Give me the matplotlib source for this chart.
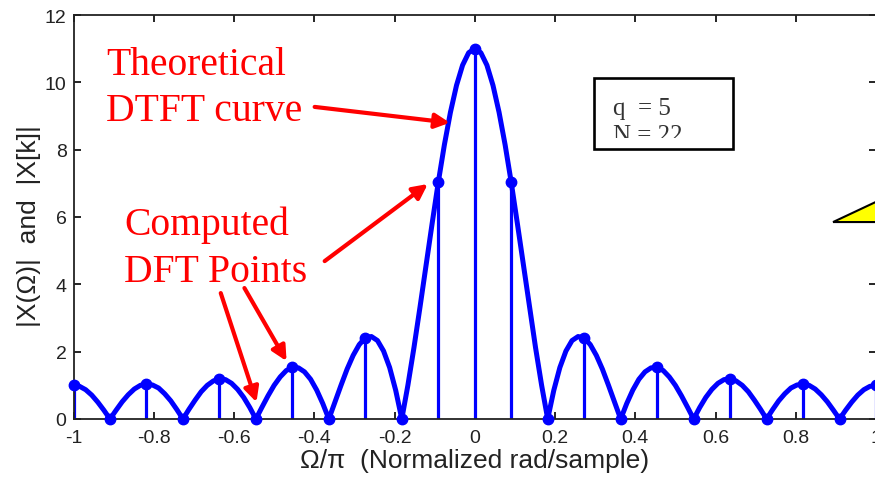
import numpy as np
import matplotlib
matplotlib.use('Agg')
import matplotlib.pyplot as plt
from matplotlib.patches import Rectangle, Polygon
from matplotlib.transforms import Bbox, TransformedBbox

# theoretical DTFT magnitude (omega/pi from -1 to 1)
dtft_mag = [1.00, 0.97, 0.87, 0.71, 0.50, 0.26, 0,
            0.26, 0.51, 0.72, 0.89, 1.00, 1.04, 1.01, 0.92, 0.75, 0.54, 0.28, 0,
            0.29, 0.56, 0.81, 1.00, 1.13, 1.19, 1.17, 1.06, 0.88, 0.64, 0.34, 0,
            0.35, 0.69, 1.00, 1.25, 1.44, 1.53, 1.52, 1.40, 1.18, 0.86, 0.46, 0,
            0.50, 1.00, 1.48, 1.89, 2.21, 2.41, 2.45, 2.33, 2.02, 1.53, 0.85, 0,
            1.00, 2.12, 3.33, 4.58, 5.82, 7.03, 8.14, 9.11, 9.91, 10.51, 10.88,
            11.0,
            10.88, 10.51, 9.91, 9.11, 8.14, 7.03, 5.82, 4.58, 3.33, 2.12, 1.00,
            0, 0.85, 1.53, 2.02, 2.33, 2.45, 2.41, 2.21, 1.89, 1.48, 1.00, 0.50,
            0, 0.46, 0.86, 1.18, 1.40, 1.52, 1.53, 1.44, 1.25, 1.00, 0.69, 0.35,
            0, 0.34, 0.64, 0.88, 1.06, 1.17, 1.19, 1.13, 1.00, 0.81, 0.56, 0.29,
            0, 0.28, 0.54, 0.75, 0.92, 1.01, 1.04, 1.00, 0.89, 0.72, 0.51, 0.26,
            0, 0.26, 0.50, 0.71, 0.87, 0.97, 1.00]
omega = np.linspace(-1, 1, len(dtft_mag))

# N = 22 DFT points, k = -11..11
k = np.arange(-11, 12)
dft_mag = [1.00, 0, 1.04, 0, 1.19, 0, 1.53, 0, 2.41, 0, 7.03, 11.0,
           7.03, 0, 2.41, 0, 1.53, 0, 1.19, 0, 1.04, 0, 1.00]
dft_freq = k / 11.0

xticks = [-1, -0.8, -0.6, -0.4, -0.2, 0, 0.2, 0.4, 0.6, 0.8, 1]
xticklabels = ['-1', '-0.8', '-0.6', '-0.4', '-0.2', '0', '0.2', '0.4', '0.6', '0.8', '1']
yticks = [0, 2, 4, 6, 8, 10, 12]

sans = ['Liberation Sans', 'DejaVu Sans']
serif = ['Liberation Serif', 'DejaVu Serif']

fig = plt.figure(figsize=(8.75, 4.81), dpi=100)
ax = fig.add_axes([73.5 / 875, 61 / 481, 802.5 / 875, 404 / 481])

ax.vlines(dft_freq, 0, dft_mag, color='blue', lw=2.3, zorder=2)
ax.plot(omega, dtft_mag, color='blue', lw=3.6, solid_joinstyle='round',
        solid_capstyle='round', zorder=3)
ax.plot(dft_freq, dft_mag, 'o', color='blue', ms=7.5, clip_on=False, zorder=4)

ax.set_xlim(-1, 1)
ax.set_ylim(0, 12)
ax.set_xticks(xticks)
ax.set_xticklabels(xticklabels, family=sans, fontsize=14, color='#222222')
ax.set_yticks(yticks)
ax.set_yticklabels([str(v) for v in yticks], family=sans, fontsize=14, color='#222222')
ax.tick_params(direction='in', length=5, width=1.2, top=True, right=True)
ax.tick_params(axis='x', pad=7)
ax.tick_params(axis='y', pad=5)
for s in ax.spines.values():
    s.set_linewidth(1.3)
    s.set_color('#222222')

ax.set_xlabel('\u03a9/\u03c0  (Normalized rad/sample)', family=sans, fontsize=19,
              color='#222222')
ax.xaxis.set_label_coords(0.5, -0.072)
ax.set_ylabel('|X(\u03a9)|  and  |X[k]|', family=sans, fontsize=19, color='#222222')
ax.yaxis.set_label_coords(-0.040, 0.48)

# red annotations
ax.text(-0.918, 11.08, 'Theoretical\nDTFT curve', color='red', family=serif,
        fontsize=28.5, va='top', ha='left', linespacing=1.33)
ax.text(-0.873, 6.33, 'Computed\nDFT Points', color='red', family=serif,
        fontsize=28.5, va='top', ha='left', linespacing=1.33)

arrow = dict(arrowstyle='-|>', color='red', lw=3, mutation_scale=22,
             shrinkA=0, shrinkB=0)
ax.annotate('', xy=(-0.062, 8.8), xytext=(-0.399, 9.27), arrowprops=arrow)
ax.annotate('', xy=(-0.117, 6.98), xytext=(-0.374, 4.69), arrowprops=arrow)
ax.annotate('', xy=(-0.544, 0.50), xytext=(-0.633, 3.74), arrowprops=arrow)
ax.annotate('', xy=(-0.469, 1.72), xytext=(-0.574, 3.89), arrowprops=arrow)

# parameter box (second line cut by the box)
ax.add_patch(Rectangle((0.297, 8.02), 0.346, 2.11, fill=False, ec='black',
                       lw=1.9, zorder=5))
t = ax.text(0.344, 9.56, 'q  = 5\nN = 22', color='#333333', family=serif,
            fontsize=18, va='top', ha='left', linespacing=1.28, zorder=5)
t.set_clip_on(True)
t.set_clip_box(TransformedBbox(Bbox([[0.297, 8.35], [0.643, 10.13]]), ax.transData))

# yellow shape at the right edge
ax.add_patch(Polygon([(0.893, 5.85), (1.05, 6.73), (1.05, 5.85)], closed=True,
                     fc='yellow', ec='black', lw=1.5, clip_on=False, zorder=6))

fig.savefig('out.png', dpi=100)
